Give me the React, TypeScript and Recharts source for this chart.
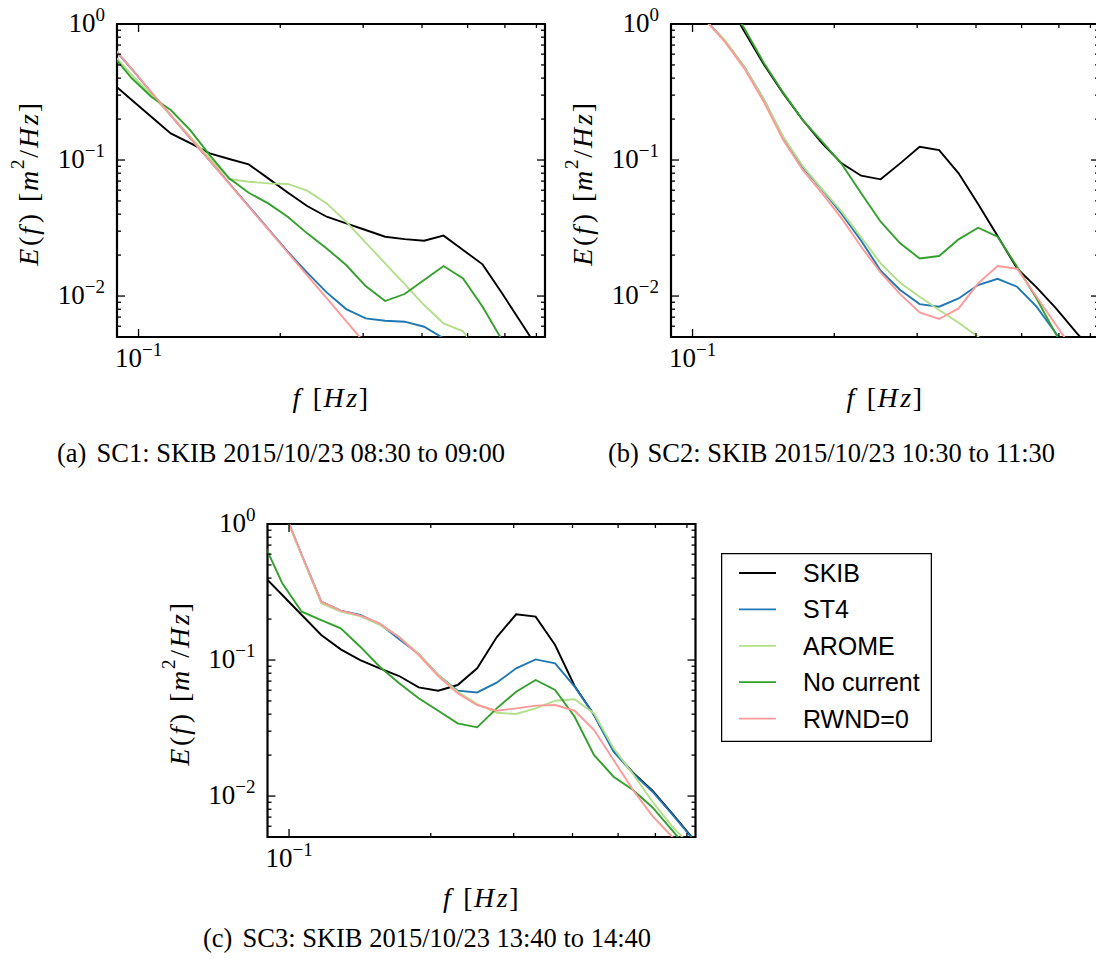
import React from 'react';
import { LineChart, Line, XAxis, YAxis, ReferenceArea, Legend } from 'recharts';

// Model frequency bins [Hz]
const freqs = [
  0.08795, 0.09675, 0.10642, 0.11706, 0.12877, 0.14165, 0.15581, 0.17139,
  0.18853, 0.20739, 0.22812, 0.25094, 0.27603, 0.30363, 0.334, 0.3674,
  0.40413, 0.44455, 0.489, 0.5379, 0.59169, 0.65086, 0.71595,
];

// SC1: 2015/10/23 08:30 to 09:00
const skibA = [0.368, 0.276, 0.208, 0.157, 0.133, 0.112, 0.1017, 0.0929, 0.0733, 0.0578, 0.0459, 0.0383, 0.0342, 0.0306, 0.0273, 0.0262, 0.0255, 0.0278, 0.0218, 0.0171, 0.0105, 0.0063, 0.0038];
const st4A = [0.68, 0.465, 0.315, 0.213, 0.145, 0.099, 0.0675, 0.0458, 0.0312, 0.0212, 0.01485, 0.01064, 0.00802, 0.00685, 0.00659, 0.00648, 0.00595, 0.00489, 0.0038, null, null, null, null];
const aromeA = [0.608, 0.422, 0.301, 0.214, 0.1485, 0.1028, 0.0725, 0.0693, 0.0674, 0.0667, 0.0595, 0.048, 0.0352, 0.0247, 0.0174, 0.01225, 0.00859, 0.0063, 0.0055, 0.00358, null, null, null];
const noCurA = [0.592, 0.399, 0.292, 0.233, 0.166, 0.1088, 0.0733, 0.0575, 0.048, 0.0383, 0.0289, 0.0224, 0.0169, 0.01185, 0.00919, 0.01035, 0.0131, 0.01662, 0.01349, 0.00835, 0.00475, null, null];
const rwndA = [0.685, 0.467, 0.316, 0.214, 0.145, 0.0989, 0.067, 0.0454, 0.0309, 0.0209, 0.0142, 0.00966, 0.00655, 0.00444, null, null, null, null, null, null, null, null, null];

// SC2: 2015/10/23 10:30 to 11:30
const skibB = [null, null, 2.76, 1.57, 0.883, 0.505, 0.309, 0.1968, 0.1326, 0.0945, 0.0767, 0.0721, 0.0945, 0.1253, 0.1184, 0.0798, 0.0475, 0.0276, 0.01597, 0.01158, 0.00811, 0.00547, 0.00379];
const st4B = [null, 1.46, 1.08, 0.754, 0.4855, 0.2793, 0.1467, 0.0886, 0.0602, 0.0401, 0.0255, 0.01536, 0.01107, 0.00873, 0.00835, 0.0096, 0.01205, 0.0134, 0.01171, 0.00835, 0.00531, 0.00329, null];
const aromeB = [null, 1.46, 1.06, 0.7627, 0.4855, 0.2793, 0.1484, 0.0903, 0.0609, 0.0417, 0.027, 0.0174, 0.01253, 0.00989, 0.00789, 0.00637, 0.00502, 0.0039, null, null, null, null, null];
const noCurB = [null, null, 2.49, 1.585, 0.929, 0.5195, 0.3127, 0.1968, 0.1364, 0.0934, 0.0569, 0.0352, 0.0244, 0.0189, 0.01968, 0.0261, 0.0318, 0.0273, 0.01643, 0.0096, 0.00523, 0.00286, null];
const rwndB = [null, 1.46, 1.07, 0.7415, 0.472, 0.2685, 0.1403, 0.0844, 0.0569, 0.03725, 0.02305, 0.01484, 0.01034, 0.00758, 0.00678, 0.00811, 0.01239, 0.01662, 0.01589, 0.00989, 0.00612, 0.00379, null];

// SC3: 2015/10/23 13:40 to 14:40
const skibC = [0.4217, 0.3006, 0.2142, 0.1527, 0.1198, 0.1, 0.0869, 0.0763, 0.063, 0.0595, 0.0655, 0.0869, 0.1468, 0.2167, 0.2083, 0.1289, 0.0644, 0.0394, 0.02154, 0.01484, 0.01094, 0.00746, 0.00502];
const st4C = [null, 1.341, 0.5916, 0.2685, 0.2306, 0.2142, 0.1839, 0.1419, 0.1107, 0.0776, 0.0595, 0.0578, 0.0681, 0.0869, 0.1011, 0.0945, 0.0637, 0.0394, 0.0212, 0.01468, 0.01076, 0.00737, 0.00497];
const aromeC = [null, 1.3, 0.582, 0.261, 0.2266, 0.2106, 0.1809, 0.1484, 0.1107, 0.0776, 0.0585, 0.0475, 0.041, 0.0401, 0.0441, 0.0502, 0.0514, 0.0405, 0.0224, 0.01451, 0.00908, 0.00602, 0.00424];
const noCurC = [0.75, 0.3663, 0.2266, 0.1968, 0.1709, 0.1253, 0.0893, 0.0674, 0.0523, 0.0424, 0.0342, 0.032, 0.0441, 0.0585, 0.0713, 0.0602, 0.0383, 0.02, 0.01387, 0.01107, 0.00825, 0.00562, 0.00379];
const rwndC = [null, 1.341, 0.5916, 0.2685, 0.2306, 0.2118, 0.186, 0.1468, 0.1088, 0.0763, 0.0569, 0.0467, 0.0424, 0.0441, 0.0462, 0.0467, 0.0424, 0.0306, 0.0184, 0.01107, 0.00713, 0.00502, 0.00379];

const X_DOMAIN = [0.09, 0.73];
const Y_DOMAIN = [0.005, 1];
const X_TICKS = [0.1, 0.2, 0.3, 0.4, 0.5, 0.6, 0.7];
const Y_TICKS = [
  0.006, 0.007, 0.008, 0.009,
  0.01, 0.02, 0.03, 0.04, 0.05, 0.06, 0.07, 0.08, 0.09,
  0.1, 0.2, 0.3, 0.4, 0.5, 0.6, 0.7, 0.8, 0.9, 1,
];

const SERIES = [
  { key: 'skib', name: 'SKIB', color: '#000000' },
  { key: 'st4', name: 'ST4', color: '#1f78b4' },
  { key: 'arome', name: 'AROME', color: '#b2df8a' },
  { key: 'nocur', name: 'No current', color: '#33a02c' },
  { key: 'rwnd', name: 'RWND=0', color: '#fb9a99' },
];

const CAPTIONS = [
  { tag: '(a)', text: 'SC1: SKIB 2015/10/23 08:30 to 09:00', x: 57, y: 462 },
  { tag: '(b)', text: 'SC2: SKIB 2015/10/23 10:30 to 11:30', x: 608, y: 462 },
  { tag: '(c)', text: 'SC3: SKIB 2015/10/23 13:40 to 14:40', x: 203, y: 947 },
];

const buildRows = (skib: any[], st4: any[], arome: any[], nocur: any[], rwnd: any[]) =>
  freqs.map((f, i) => ({ f, skib: skib[i], st4: st4[i], arome: arome[i], nocur: nocur[i], rwnd: rwnd[i] }));

const rowsA = buildRows(skibA, st4A, aromeA, noCurA, rwndA);
const rowsB = buildRows(skibB, st4B, aromeB, noCurB, rwndB);
const rowsC = buildRows(skibC, st4C, aromeC, noCurC, rwndC);

const SERIF = "'Liberation Serif', 'Times New Roman', serif";
const SANS = "'Liberation Sans', Arial, sans-serif";

const decadeOf = (v: number) => {
  const e = Math.log10(v);
  const r = Math.round(e);
  return Math.abs(e - r) < 1e-6 ? r : null;
};

const PowerLabel = ({ x, y, exp, anchor }: { x: number; y: number; exp: number; anchor: string }) => (
  <text x={x} y={y} textAnchor={anchor as any} fontFamily={SERIF} fontSize={27} fill="#000">
    10
    <tspan dy={-11} fontSize={19}>{exp === 0 ? '0' : '\u2212' + Math.abs(exp)}</tspan>
  </text>
);

const makeXTick = (plotH: number) => (props: any) => {
  const { x, y, payload } = props;
  const exp = decadeOf(payload.value);
  const len = exp !== null ? 8 : 4;
  return (
    <g>
      <line x1={x} x2={x} y1={y} y2={y - len} stroke="#000" strokeWidth={1.3} />
      <line x1={x} x2={x} y1={y - plotH} y2={y - plotH + len} stroke="#000" strokeWidth={1.3} />
      {exp !== null && <PowerLabel x={x} y={y + 30} exp={exp} anchor="middle" />}
    </g>
  );
};

const makeYTick = (plotW: number) => (props: any) => {
  const { x, y, payload } = props;
  const exp = decadeOf(payload.value);
  const len = exp !== null ? 8 : 4;
  return (
    <g>
      <line x1={x} x2={x + len} y1={y} y2={y} stroke="#000" strokeWidth={1.3} />
      <line x1={x + plotW} x2={x + plotW - len} y1={y} y2={y} stroke="#000" strokeWidth={1.3} />
      {exp !== null && <PowerLabel x={x - 12} y={y + 8} exp={exp} anchor="end" />}
    </g>
  );
};

const xLabel = (props: any) => {
  const vb = props.viewBox || {};
  const cx = vb.x + vb.width / 2;
  const cy = vb.y + 60;
  return (
    <text x={cx} y={cy} textAnchor="middle" dominantBaseline="central" fontFamily={SERIF} fontSize={28} fill="#000" letterSpacing={1.5}>
      <tspan fontStyle="italic">f</tspan>
      <tspan dx={11}>[</tspan>
      <tspan fontStyle="italic">H</tspan>
      <tspan fontStyle="italic" dx={1}>z</tspan>
      <tspan>]</tspan>
    </text>
  );
};

const yLabel = (props: any) => {
  const vb = props.viewBox || {};
  const cx = vb.x + vb.width - 89;
  const cy = vb.y + vb.height / 2 + 3;
  return (
    <text x={cx} y={cy} transform={`rotate(-90, ${cx}, ${cy})`} textAnchor="middle" dominantBaseline="central" fontFamily={SERIF} fontSize={28} fill="#000" letterSpacing={1.8}>
      <tspan fontStyle="italic">E</tspan>
      <tspan dx={1}>(</tspan>
      <tspan fontStyle="italic">f</tspan>
      <tspan dx={2}>)</tspan>
      <tspan dx={10}>[</tspan>
      <tspan fontStyle="italic">m</tspan>
      <tspan dy={-11} fontSize={19}>2</tspan>
      <tspan dy={11}>/</tspan>
      <tspan fontStyle="italic">H</tspan>
      <tspan fontStyle="italic" dx={1}>z</tspan>
      <tspan>]</tspan>
    </text>
  );
};

const seriesRank = (name: string) => SERIES.findIndex((s) => s.name === name);

const LegendBox = (props: any) => {
  const items = [...(props.payload || [])].sort((a: any, b: any) => seriesRank(a.value) - seriesRank(b.value));
  return (
    <svg width={211} height={189} style={{ display: 'block' }}>
      <rect x={0.6} y={0.6} width={209.8} height={187.8} fill="#fff" stroke="#000" strokeWidth={1.3} />
      {items.map((it: any, i: number) => {
        const rowY = 20 + i * 36.4;
        return (
          <g key={it.value}>
            <line x1={18} x2={55} y1={rowY} y2={rowY} stroke={it.color} strokeWidth={1.8} />
            <text x={82} y={rowY + 9} fontFamily={SANS} fontSize={25} fill="#000">{it.value}</text>
          </g>
        );
      })}
    </svg>
  );
};

type PanelProps = {
  rows: any[];
  left: number;
  top: number;
  width: number;
  height: number;
  margin: { top: number; right: number; bottom: number; left: number };
  withLegend?: boolean;
};

const PLOT_W = 428;
const PLOT_H = 313;

const SpectrumPanel = ({ rows, left, top, width, height, margin, withLegend }: PanelProps) => (
  <div style={{ position: 'absolute', left, top }}>
    <LineChart width={width} height={height} data={rows} margin={margin}>
      <XAxis
        dataKey="f"
        type="number"
        scale="log"
        domain={X_DOMAIN}
        allowDataOverflow
        ticks={X_TICKS}
        interval={0}
        tickSize={0}
        tickMargin={0}
        axisLine={false}
        tickLine={false}
        height={80}
        tick={makeXTick(PLOT_H)}
        label={xLabel}
      />
      <YAxis
        type="number"
        scale="log"
        domain={Y_DOMAIN}
        allowDataOverflow
        ticks={Y_TICKS}
        interval={0}
        tickSize={0}
        tickMargin={0}
        axisLine={false}
        tickLine={false}
        width={100}
        tick={makeYTick(PLOT_W)}
        label={yLabel}
      />
      {SERIES.map((s) => (
        <Line
          key={s.key}
          type="linear"
          dataKey={s.key}
          name={s.name}
          stroke={s.color}
          strokeWidth={1.9}
          dot={false}
          activeDot={false}
          connectNulls={false}
          isAnimationActive={false}
        />
      ))}
      <ReferenceArea
        x1={X_DOMAIN[0]}
        x2={X_DOMAIN[1]}
        y1={Y_DOMAIN[0]}
        y2={Y_DOMAIN[1]}
        fill="none"
        fillOpacity={0}
        stroke="#000"
        strokeWidth={2.2}
        ifOverflow="visible"
      />
      {withLegend && (
        <Legend
          layout="vertical"
          align="center"
          verticalAlign="middle"
          wrapperStyle={{ left: 581, top: 53, width: 211, height: 189 }}
          content={LegendBox}
        />
      )}
    </LineChart>
  </div>
);

export default function App() {
  return (
    <div style={{ position: 'absolute', left: 0, top: 0, width: 1096, height: 969, overflow: 'hidden', background: '#fff' }}>
      <svg width={1096} height={969} style={{ position: 'absolute', left: 0, top: 0 }}>
        {CAPTIONS.map((c) => (
          <g key={c.tag}>
            <text x={c.x} y={c.y} fontFamily={SERIF} fontSize={26.5} fill="#000">{c.tag}</text>
            <text x={c.x + 39.5} y={c.y} fontFamily={SERIF} fontSize={26.5} fill="#000">{c.text}</text>
          </g>
        ))}
      </svg>
      <SpectrumPanel rows={rowsA} left={0} top={0} width={560} height={420} margin={{ top: 24, right: 15, bottom: 3, left: 17 }} />
      <SpectrumPanel rows={rowsB} left={560} top={0} width={560} height={420} margin={{ top: 24, right: 21, bottom: 3, left: 11 }} />
      <SpectrumPanel rows={rowsC} left={140} top={500} width={820} height={420} margin={{ top: 24, right: 264.5, bottom: 3, left: 27.5 }} withLegend />
    </div>
  );
}
